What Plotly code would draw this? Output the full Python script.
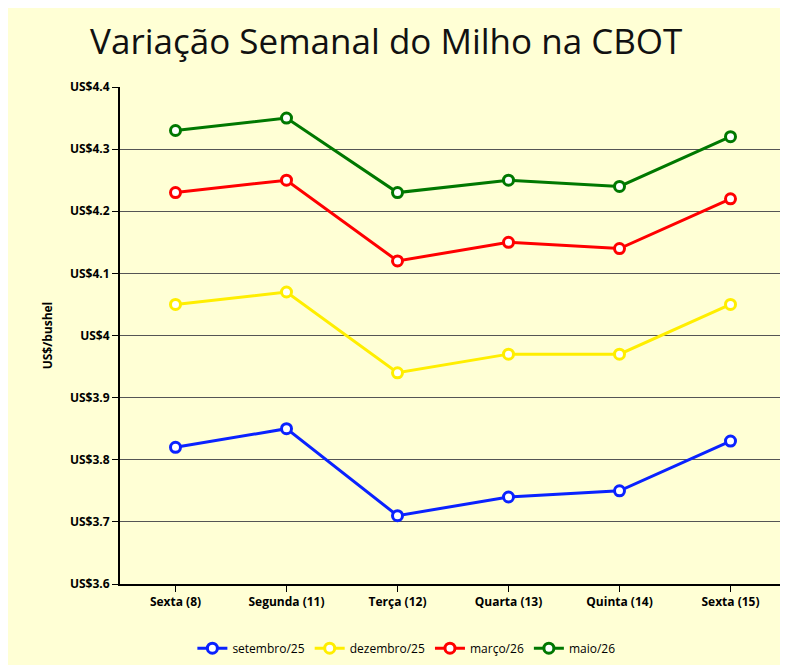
import plotly.graph_objects as go

days = ['Sexta (8)', 'Segunda (11)', 'Terça (12)', 'Quarta (13)', 'Quinta (14)', 'Sexta (15)']
setembro = [3.82, 3.85, 3.71, 3.74, 3.75, 3.83]
dezembro = [4.05, 4.07, 3.94, 3.97, 3.97, 4.05]
marco = [4.23, 4.25, 4.12, 4.15, 4.14, 4.22]
maio = [4.33, 4.35, 4.23, 4.25, 4.24, 4.32]
y_ticks = [3.6, 3.7, 3.8, 3.9, 4.0, 4.1, 4.2, 4.3, 4.4]
y_labels = ['US$3.6', 'US$3.7', 'US$3.8', 'US$3.9', 'US$4', 'US$4.1', 'US$4.2', 'US$4.3', 'US$4.4']

series = [('setembro/25', setembro, '#0a22ff'), ('dezembro/25', dezembro, '#ffee00'),
          ('março/26', marco, '#ff0000'), ('maio/26', maio, '#007800')]

fig = go.Figure()
for name, vals, color in series:
    fig.add_trace(go.Scatter(
        x=days, y=vals, name=name, mode='lines+markers',
        line=dict(color=color, width=3),
        marker=dict(size=10, color='white', line=dict(color=color, width=3)),
    ))

fig.update_layout(
    width=788, height=665,
    paper_bgcolor='#ffffd5', plot_bgcolor='#ffffd5',
    font=dict(family='Open Sans', color='black'),
    title=dict(text='Variação Semanal do Milho na CBOT', x=0.48, y=0.968, xanchor='center',
               font=dict(size=35, color='#111')),
    margin=dict(l=112, r=10, t=79, b=74),
    showlegend=True,
    legend=dict(orientation='h', x=0.43, xanchor='center', y=-0.1, yanchor='top',
                font=dict(size=12)),
)
fig.update_xaxes(range=[-0.5, 5.5], showline=True, linecolor='black', linewidth=2, showgrid=False,
                 ticks='outside', ticklen=6, tickcolor='black',
                 tickfont=dict(size=12, family='Open Sans', weight='bold'))
fig.update_yaxes(range=[3.6, 4.4], tickvals=y_ticks, ticktext=y_labels,
                 showline=True, linecolor='black', linewidth=2,
                 gridcolor='#555', gridwidth=1, ticks='outside', ticklen=6, tickcolor='black',
                 tickfont=dict(size=12, weight='bold'),
                 title=dict(text='US$/bushel', font=dict(size=12, weight='bold')))

fig.write_html('out.html')
